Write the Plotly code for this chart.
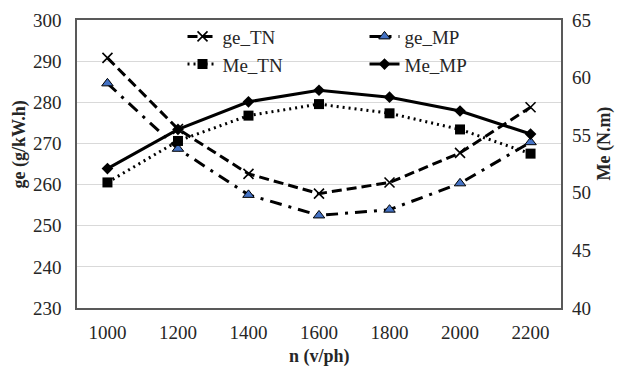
import plotly.graph_objects as go

speeds = ["1000", "1200", "1400", "1600", "1800", "2000", "2200"]
ge_TN = [290.8, 273.5, 262.6, 257.8, 260.5, 267.7, 278.8]
ge_MP = [284.6, 268.7, 257.5, 252.5, 253.9, 260.3, 270.3]
Me_TN = [50.9, 54.5, 56.7, 57.7, 56.9, 55.5, 53.4]
Me_MP = [52.1, 55.5, 57.9, 58.9, 58.3, 57.1, 55.1]

FONT = "Liberation Serif"
AX = "#595959"
TXT = "#262626"

fig = go.Figure()
fig.add_trace(go.Scatter(
    x=speeds, y=ge_TN, name="ge_TN", mode="lines+markers",
    line=dict(color="black", width=3, dash="10px,5px"),
    marker=dict(symbol="x-thin", size=10, color="black", line=dict(color="black", width=1.6)),
))
fig.add_trace(go.Scatter(
    x=speeds, y=ge_MP, name="ge_MP", mode="lines+markers",
    line=dict(color="black", width=3, dash="12px,7px,3px,7px"),
    marker=dict(symbol="triangle-up", size=10, color="#4472C4", line=dict(color="black", width=1)),
))
fig.add_trace(go.Scatter(
    x=speeds, y=Me_TN, name="Me_TN", mode="lines+markers", yaxis="y2",
    line=dict(color="black", width=3, dash="2px,4px"),
    marker=dict(symbol="square", size=10, color="black"),
))
fig.add_trace(go.Scatter(
    x=speeds, y=Me_MP, name="Me_MP", mode="lines+markers", yaxis="y2",
    line=dict(color="black", width=3),
    marker=dict(symbol="diamond", size=9, color="black"),
))

fig.update_layout(
    width=624, height=369,
    margin=dict(l=69, r=71, t=11, b=69),
    paper_bgcolor="white", plot_bgcolor="white",
    font=dict(family=FONT, size=19, color=TXT),
    showlegend=True,
    legend=dict(
        orientation="h", x=0.218, y=1.005, xanchor="left", yanchor="top",
        entrywidth=137, entrywidthmode="pixels",
        bgcolor="rgba(255,255,255,0)", font=dict(family=FONT, size=19, color=TXT),
        tracegroupgap=0,
    ),
    xaxis=dict(
        type="category", showgrid=False, showline=True, linecolor=AX, linewidth=1.5,
        mirror=True, ticks="", tickfont=dict(family=FONT, size=19), automargin=False,
        ticklabelstandoff=6,
    ),
    yaxis=dict(
        range=[230, 300], dtick=10, showgrid=True, gridcolor="#d9d9d9", gridwidth=1,
        showline=True, linecolor=AX, linewidth=1.5, mirror=True, ticks="",
        tickfont=dict(family=FONT, size=19), zeroline=False, automargin=False,
        ticklabelstandoff=10,
    ),
    yaxis2=dict(
        range=[40, 65], dtick=5, overlaying="y", side="right", showgrid=False,
        showline=False, ticks="", tickfont=dict(family=FONT, size=19), zeroline=False,
        automargin=False, ticklabelstandoff=10,
    ),
    annotations=[
        dict(text="<b>ge (g/kW.h)</b>", xref="paper", yref="paper", x=-0.118, y=0.567,
             xanchor="center", yanchor="middle", textangle=-90, showarrow=False,
             font=dict(family=FONT, size=18, color=TXT)),
        dict(text="<b>Me (N.m)</b>", xref="paper", yref="paper", x=1.091, y=0.571,
             xanchor="center", yanchor="middle", textangle=-90, showarrow=False,
             font=dict(family=FONT, size=18, color=TXT)),
        dict(text="<b>n (v/ph)</b>", xref="paper", yref="paper", x=0.5, y=-0.167,
             xanchor="center", yanchor="middle", showarrow=False,
             font=dict(family=FONT, size=18, color=TXT)),
    ],
)

fig.write_html("out.html")
